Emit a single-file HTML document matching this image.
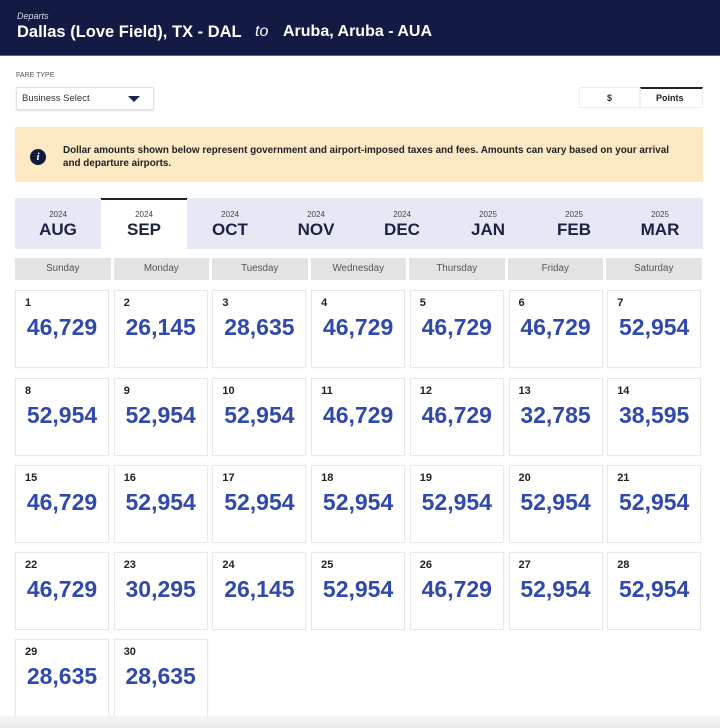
<!DOCTYPE html>
<html><head><meta charset="utf-8">
<style>
*{margin:0;padding:0;box-sizing:border-box}
html,body{width:720px;height:728px;overflow:hidden;background:#fff;font-family:"Liberation Sans",Arial,sans-serif}
.a{position:absolute;white-space:nowrap;line-height:1}
#hdr{position:absolute;left:0;top:0;width:720px;height:56px;background:#131a44;border-bottom:1px solid #5d6386}
.cell{position:absolute;width:94px;height:78px;border:1px solid #e8e8e8;background:#fff;box-shadow:0 0 2px rgba(0,0,0,0.05)}
.cell .d{position:absolute;left:9px;top:7px;font-size:11px;font-weight:bold;color:#222;line-height:1}
.cell .v{position:absolute;left:0;width:100%;text-align:center;top:25px;font-size:23px;font-weight:bold;color:#3049ab;line-height:1}
.wd{position:absolute;top:258px;height:22px;width:95.5px;background:#e3e3e3;color:#555;font-size:9.8px;text-align:center;line-height:22px}
.tab{position:absolute;top:198px;height:51px;width:86px;text-align:center;color:#1d2142}
.tab .y{position:absolute;left:0;width:100%;top:13px;font-size:8px;line-height:1;color:#444}
.tab .m{position:absolute;left:0;width:100%;top:23px;font-size:17px;font-weight:bold;line-height:1}
</style></head><body>
<div id="hdr"></div>
<div class="a" style="left:17px;top:12px;font-size:9px;font-style:italic;color:#d8dae6">Departs</div>
<div class="a" style="left:17px;top:24px;font-size:16.5px;font-weight:bold;color:#fff">Dallas (Love Field), TX - DAL</div>
<div class="a" style="left:255px;top:24px;font-size:16px;font-style:italic;color:#fff">to</div>
<div class="a" style="left:283px;top:24px;font-size:16px;font-weight:bold;color:#fff">Aruba, Aruba - AUA</div>

<div class="a" style="left:16px;top:72px;font-size:7px;color:#555">FARE TYPE</div>
<div style="position:absolute;left:16px;top:87px;width:138px;height:23px;border:1px solid #e2e2e2;box-shadow:0 1px 2px rgba(0,0,0,0.12);background:#fff"></div>
<div class="a" style="left:22px;top:94px;font-size:9.5px;color:#333">Business Select</div>
<div style="position:absolute;left:128px;top:96px;width:0;height:0;border-left:6px solid transparent;border-right:6px solid transparent;border-top:6px solid #1a2350"></div>

<div style="position:absolute;left:579px;top:87px;width:61px;height:21px;border:1px solid #eee;background:#fff"></div>
<div style="position:absolute;left:640px;top:87px;width:63px;height:21px;border:1px solid #eee;border-top:2px solid #222;background:#fff"></div>
<div class="a" style="left:607px;top:94px;font-size:9px;font-weight:bold;color:#333">$</div>
<div class="a" style="left:656px;top:94px;font-size:9px;font-weight:bold;color:#222">Points</div>

<div style="position:absolute;left:15px;top:127px;width:688px;height:55px;background:#fce8c3"></div>
<div style="position:absolute;left:30px;top:149px;width:16px;height:16px;border-radius:50%;background:#111a3d;color:#fff;font-size:11px;font-weight:bold;font-style:italic;text-align:center;line-height:16px;font-family:'Liberation Serif',serif">i</div>
<div class="a" style="left:63px;top:143.5px;font-size:9.9px;font-weight:bold;color:#222;line-height:13px">Dollar amounts shown below represent government and airport-imposed taxes and fees. Amounts can vary based on your arrival<br>and departure airports.</div>

<div style="position:absolute;left:15px;top:198px;width:688px;height:51px;background:#e6e9f5"></div>
<div style="position:absolute;left:101px;top:198px;width:86px;height:52px;background:#fff;border-top:2px solid #222"></div>
<div class="tab" style="left:15px"><div class="y">2024</div><div class="m">AUG</div></div>
<div class="tab" style="left:101px"><div class="y">2024</div><div class="m">SEP</div></div>
<div class="tab" style="left:187px"><div class="y">2024</div><div class="m">OCT</div></div>
<div class="tab" style="left:273px"><div class="y">2024</div><div class="m">NOV</div></div>
<div class="tab" style="left:359px"><div class="y">2024</div><div class="m">DEC</div></div>
<div class="tab" style="left:445px"><div class="y">2025</div><div class="m">JAN</div></div>
<div class="tab" style="left:531px"><div class="y">2025</div><div class="m">FEB</div></div>
<div class="tab" style="left:617px"><div class="y">2025</div><div class="m">MAR</div></div>

<div class="wd" style="left:15px">Sunday</div>
<div class="wd" style="left:113.5px">Monday</div>
<div class="wd" style="left:212px">Tuesday</div>
<div class="wd" style="left:310.5px">Wednesday</div>
<div class="wd" style="left:409px">Thursday</div>
<div class="wd" style="left:507.5px">Friday</div>
<div class="wd" style="left:606px">Saturday</div>

<!-- row 1 -->
<div class="cell" style="left:15px;top:290px"><div class="d">1</div><div class="v">46,729</div></div>
<div class="cell" style="left:113.7px;top:290px"><div class="d">2</div><div class="v">26,145</div></div>
<div class="cell" style="left:212.4px;top:290px"><div class="d">3</div><div class="v">28,635</div></div>
<div class="cell" style="left:311.1px;top:290px"><div class="d">4</div><div class="v">46,729</div></div>
<div class="cell" style="left:409.8px;top:290px"><div class="d">5</div><div class="v">46,729</div></div>
<div class="cell" style="left:508.5px;top:290px"><div class="d">6</div><div class="v">46,729</div></div>
<div class="cell" style="left:607.2px;top:290px"><div class="d">7</div><div class="v">52,954</div></div>
<!-- row 2 -->
<div class="cell" style="left:15px;top:378px"><div class="d">8</div><div class="v">52,954</div></div>
<div class="cell" style="left:113.7px;top:378px"><div class="d">9</div><div class="v">52,954</div></div>
<div class="cell" style="left:212.4px;top:378px"><div class="d">10</div><div class="v">52,954</div></div>
<div class="cell" style="left:311.1px;top:378px"><div class="d">11</div><div class="v">46,729</div></div>
<div class="cell" style="left:409.8px;top:378px"><div class="d">12</div><div class="v">46,729</div></div>
<div class="cell" style="left:508.5px;top:378px"><div class="d">13</div><div class="v">32,785</div></div>
<div class="cell" style="left:607.2px;top:378px"><div class="d">14</div><div class="v">38,595</div></div>
<!-- row 3 -->
<div class="cell" style="left:15px;top:465px"><div class="d">15</div><div class="v">46,729</div></div>
<div class="cell" style="left:113.7px;top:465px"><div class="d">16</div><div class="v">52,954</div></div>
<div class="cell" style="left:212.4px;top:465px"><div class="d">17</div><div class="v">52,954</div></div>
<div class="cell" style="left:311.1px;top:465px"><div class="d">18</div><div class="v">52,954</div></div>
<div class="cell" style="left:409.8px;top:465px"><div class="d">19</div><div class="v">52,954</div></div>
<div class="cell" style="left:508.5px;top:465px"><div class="d">20</div><div class="v">52,954</div></div>
<div class="cell" style="left:607.2px;top:465px"><div class="d">21</div><div class="v">52,954</div></div>
<!-- row 4 -->
<div class="cell" style="left:15px;top:552px"><div class="d">22</div><div class="v">46,729</div></div>
<div class="cell" style="left:113.7px;top:552px"><div class="d">23</div><div class="v">30,295</div></div>
<div class="cell" style="left:212.4px;top:552px"><div class="d">24</div><div class="v">26,145</div></div>
<div class="cell" style="left:311.1px;top:552px"><div class="d">25</div><div class="v">52,954</div></div>
<div class="cell" style="left:409.8px;top:552px"><div class="d">26</div><div class="v">46,729</div></div>
<div class="cell" style="left:508.5px;top:552px"><div class="d">27</div><div class="v">52,954</div></div>
<div class="cell" style="left:607.2px;top:552px"><div class="d">28</div><div class="v">52,954</div></div>
<!-- row 5 -->
<div class="cell" style="left:15px;top:639px"><div class="d">29</div><div class="v">28,635</div></div>
<div class="cell" style="left:113.7px;top:639px"><div class="d">30</div><div class="v">28,635</div></div>

<div style="position:absolute;left:0;top:716px;width:720px;height:12px;background:linear-gradient(#f6f6f6,#e9e9e9)"></div>
</body></html>
